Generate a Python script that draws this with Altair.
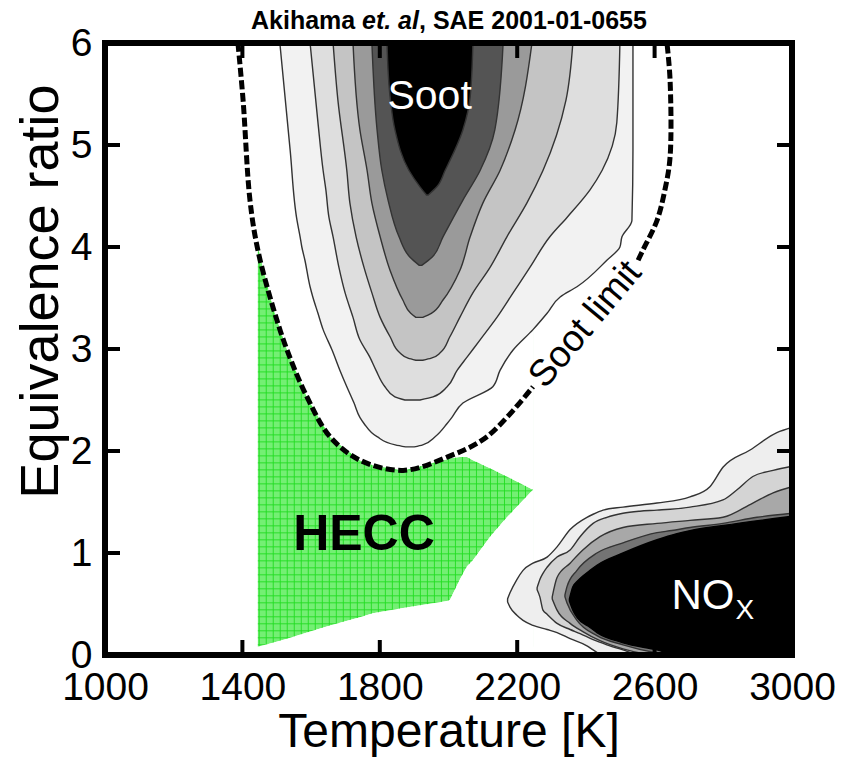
import altair as alt
import numpy as np
import pandas as pd

FONT = "Liberation Sans"
W, H = 687, 612

X_DOMAIN = [1000, 3000]
Y_DOMAIN = [0, 6]
X_TICKS = [1000, 1400, 1800, 2200, 2600, 3000]
Y_TICKS = [0, 1, 2, 3, 4, 5, 6]
X_INNER = [1400, 1800, 2200, 2600]
Y_INNER = [1, 2, 3, 4, 5]

# ---- soot contours (y, left x, right x), outer -> inner
SOOT_FILLS = ["#f2f2f2", "#dedede", "#c4c4c4", "#9a9a9a", "#545454", "#000000"]
L1_Y = [6.0, 4.95, 4.26, 4.10, 4.00, 3.87, 3.61, 3.51, 3.35, 3.19, 2.99, 2.79, 2.63, 2.47, 2.33, 2.27, 2.14, 2.06, 2.04]
L1_XL = [1509, 1539, 1559, 1568, 1573, 1582, 1597, 1605, 1620, 1635, 1661, 1684, 1704, 1725, 1742, 1754, 1792, 1845, 1875]
L1_XR = [2537, 2537, 2534, 2505, 2499, 2461, 2374, 2325, 2287, 2246, 2188, 2150, 2129, 2042, 2010, 1996, 1961, 1925, 1900]
L2_Y = [6.0, 5.22, 4.75, 4.56, 4.29, 4.10, 3.80, 3.55, 3.31, 3.09, 2.92, 2.79, 2.63, 2.53, 2.50]
L2_XL = [1597, 1620, 1635, 1643, 1652, 1664, 1681, 1699, 1722, 1742, 1771, 1789, 1815, 1844, 1873]
L2_XR = [2499, 2490, 2447, 2412, 2345, 2295, 2237, 2188, 2141, 2092, 2054, 2025, 1996, 1955, 1917]
L3_Y = [6.0, 5.44, 4.75, 4.43, 4.10, 3.80, 3.55, 3.31, 3.12, 2.96, 2.91, 2.89]
L3_XL = [1664, 1678, 1704, 1713, 1731, 1754, 1777, 1801, 1830, 1859, 1882, 1905]
L3_XR = [2362, 2342, 2275, 2228, 2170, 2121, 2071, 2033, 2004, 1975, 1950, 1925]
L4_Y = [6.0, 5.15, 4.75, 4.43, 4.10, 3.77, 3.48, 3.35, 3.31]
L4_XL = [1722, 1742, 1763, 1777, 1801, 1830, 1867, 1890, 1905]
L4_XR = [2243, 2194, 2150, 2100, 2063, 2033, 1984, 1950, 1925]
L5_Y = [6.0, 5.15, 4.75, 4.46, 4.10, 3.90, 3.82]
L5_XL = [1777, 1792, 1806, 1824, 1856, 1888, 1915]
L5_XR = [2159, 2135, 2092, 2042, 1984, 1952, 1922]
L6_Y = [6.0, 5.47, 5.15, 4.75, 4.59, 4.51]
L6_XL = [1821, 1830, 1844, 1885, 1917, 1936]
L6_XR = [2071, 2063, 2042, 1990, 1966, 1941]
SOOT = [(L1_Y, L1_XL, L1_XR), (L2_Y, L2_XL, L2_XR), (L3_Y, L3_XL, L3_XR),
        (L4_Y, L4_XL, L4_XR), (L5_Y, L5_XL, L5_XR), (L6_Y, L6_XL, L6_XR)]

# ---- NOx contours (x, bottom y, top y), outer -> inner
NOX_FILLS = ["#eeeeee", "#d4d4d4", "#a8a8a8", "#747474", "#000000"]
N1_X = [2172, 2179, 2199, 2217, 2246, 2287, 2316, 2354, 2403, 2421, 2450, 2508, 2607, 2703, 2761, 2799, 2878, 2956, 3000]
N1_TOP = [0.55, 0.61, 0.74, 0.83, 0.90, 0.96, 1.06, 1.23, 1.35, 1.38, 1.42, 1.45, 1.49, 1.55, 1.65, 1.84, 2.01, 2.18, 2.23]
N1_BOT = [0.52, 0.47, 0.39, 0.34, 0.29, 0.25, 0.22, 0.16, 0.09, 0.05, 0.0, 0.0, 0.0, 0.0, 0.0, 0.0, 0.0, 0.0, 0.0]
N2_X = [2258, 2266, 2275, 2287, 2316, 2354, 2383, 2421, 2461, 2508, 2557, 2607, 2703, 2799, 2840, 2886, 2945, 3000]
N2_TOP = [0.66, 0.74, 0.80, 0.86, 0.96, 1.03, 1.16, 1.29, 1.35, 1.39, 1.41, 1.42, 1.45, 1.52, 1.62, 1.75, 1.81, 1.85]
N2_BOT = [0.64, 0.57, 0.44, 0.40, 0.31, 0.25, 0.21, 0.15, 0.10, 0.05, 0.0, 0.0, 0.0, 0.0, 0.0, 0.0, 0.0, 0.0]
N3_X = [2302, 2316, 2354, 2391, 2441, 2508, 2607, 2703, 2799, 2886, 2945, 3000]
N3_TOP = [0.57, 0.76, 0.90, 1.03, 1.16, 1.25, 1.29, 1.32, 1.35, 1.49, 1.59, 1.65]
N3_BOT = [0.55, 0.44, 0.31, 0.23, 0.14, 0.06, 0.0, 0.0, 0.0, 0.0, 0.0, 0.0]
N4_X = [2339, 2345, 2374, 2432, 2508, 2607, 2650, 2703, 2799, 2898, 3000]
N4_TOP = [0.59, 0.67, 0.83, 1.00, 1.10, 1.20, 1.22, 1.25, 1.29, 1.35, 1.39]
N4_BOT = [0.57, 0.51, 0.34, 0.19, 0.10, 0.02, 0.0, 0.0, 0.0, 0.0, 0.0]
N5_X = [2352, 2362, 2374, 2412, 2432, 2508, 2607, 2665, 2703, 2800, 3000]
N5_TOP = [0.55, 0.67, 0.72, 0.83, 0.88, 1.00, 1.13, 1.19, 1.22, 1.27, 1.36]
N5_BOT = [0.53, 0.44, 0.37, 0.27, 0.22, 0.12, 0.05, 0.0, 0.0, 0.0, 0.0]
NOX = [(N1_X, N1_BOT, N1_TOP), (N2_X, N2_BOT, N2_TOP), (N3_X, N3_BOT, N3_TOP),
       (N4_X, N4_BOT, N4_TOP), (N5_X, N5_BOT, N5_TOP)]

# ---- HECC region
HECC_X = [1445, 1489, 1530, 1588, 1655, 1742, 1780, 1868, 1996, 2004, 2033, 2054, 2071, 2121, 2170, 2246]
HECC_LO = [0.08, 0.12, 0.16, 0.22, 0.29, 0.37, 0.41, 0.46, 0.53, 0.54, 0.74, 0.87, 0.93, 1.16, 1.35, 1.62]
HECC_HI = [4.00, 3.41, 2.99, 2.53, 2.14, 1.91, 1.86, 1.81, 1.92, 1.93, 1.94, 1.94, 1.91, 1.83, 1.75, 1.62]

# ---- soot limit (two pieces, broken by the label)
SLA_X = [1387, 1402, 1422, 1445, 1489, 1530, 1588, 1655, 1742, 1868, 1996, 2112, 2246]
SLA_Y = [6.0, 5.44, 4.46, 3.97, 3.41, 2.99, 2.53, 2.14, 1.91, 1.81, 1.94, 2.14, 2.63]
SLB_X = [2552, 2566, 2607, 2630, 2645, 2645, 2636]
SLB_Y = [3.87, 3.97, 4.26, 4.56, 4.88, 5.64, 6.0]

# ---- labels
LABEL_TEXT = ["Soot", "HECC", "NO", "X", "Soot limit"]
LABEL_X = [1945, 1754, 2741, 2863, 2399]
LABEL_Y = [5.47, 1.18, 0.58, 0.43, 3.24]

TITLE_PARTS = ["Akihama ", "et. al", ", SAE 2001-01-0655"]

xs = alt.Scale(domain=X_DOMAIN, nice=False, zero=False)
ys = alt.Scale(domain=Y_DOMAIN, nice=False, zero=False)
AX = alt.Axis(values=X_TICKS, title="Temperature [K]", ticks=False, domain=False, grid=False,
              labelFontSize=39, labelFont=FONT, labelColor="black", labelPadding=13,
              labelFlush=False, labelOverlap=False, format="d",
              titleFontSize=48, titleFont=FONT, titleFontWeight="normal", titleColor="black",
              titleBaseline="alphabetic", titleY=91)
AY = alt.Axis(values=Y_TICKS, title="Equivalence ratio", ticks=False, domain=False, grid=False,
              labelFontSize=39, labelFont=FONT, labelColor="black", labelPadding=13,
              labelFlush=False, labelOverlap=False, format="d",
              titleFontSize=54, titleFont=FONT, titleFontWeight="normal", titleColor="black",
              titleBaseline="alphabetic", titleX=-48, titleY=248)

layers = []

# HECC region: fill, grid texture, then white masks outside the polygon
hecc_df = pd.DataFrame({"x": HECC_X, "lo": HECC_LO, "hi": HECC_HI})
layers.append(
    alt.Chart(hecc_df).mark_area(orient="vertical", fill="#74ef74", clip=True)
    .encode(x=alt.X("x:Q", scale=xs, axis=AX),
            y=alt.Y("lo:Q", scale=ys, axis=AY, stack=None),
            y2="hi:Q")
)
GRID_STEP_X = 20.4
GRID_STEP_Y = 0.0686
gv = pd.DataFrame({"v": np.arange(HECC_X[0] + 4, HECC_X[-1], GRID_STEP_X)})
gh = pd.DataFrame({"v": np.arange(HECC_LO[0] + 0.02, HECC_HI[0], GRID_STEP_Y)})
layers.append(alt.Chart(gv).mark_rule(color="#22dd22", strokeWidth=0.9, clip=True).encode(
    x=alt.X("v:Q", scale=xs, axis=AX), y=alt.datum(HECC_LO[0]), y2=alt.datum(HECC_HI[0])))
layers.append(alt.Chart(gh).mark_rule(color="#22dd22", strokeWidth=0.9, clip=True).encode(
    y=alt.Y("v:Q", scale=ys, axis=AY), x=alt.datum(HECC_X[0]), x2=alt.datum(HECC_X[-1])))
mask_df = pd.DataFrame({"x": HECC_X, "lo": HECC_LO, "hi": HECC_HI,
                        "top": [HECC_HI[0] + 0.1] * len(HECC_X), "bot": [0.0] * len(HECC_X)})
layers.append(alt.Chart(mask_df).mark_area(orient="vertical", fill="white", clip=True).encode(
    x=alt.X("x:Q", scale=xs, axis=AX), y=alt.Y("hi:Q", scale=ys, axis=AY, stack=None), y2="top:Q"))
layers.append(alt.Chart(mask_df).mark_area(orient="vertical", fill="white", clip=True).encode(
    x=alt.X("x:Q", scale=xs, axis=AX), y=alt.Y("bot:Q", scale=ys, axis=AY, stack=None), y2="lo:Q"))

# soot contours
for (yy, xl, xr), fill in zip(SOOT, SOOT_FILLS):
    df = pd.DataFrame({"y": yy, "xl": xl, "xr": xr})
    layers.append(
        alt.Chart(df).mark_area(orient="horizontal", fill=fill, stroke="#333333",
                                strokeWidth=1.4, clip=True, interpolate="monotone")
        .encode(y=alt.Y("y:Q", scale=ys, axis=AY),
                x=alt.X("xl:Q", scale=xs, axis=AX, stack=None),
                x2="xr:Q")
    )

# NOx contours
for i, ((xx, lo, hi), fill) in enumerate(zip(NOX, NOX_FILLS)):
    df = pd.DataFrame({"x": xx, "lo": lo, "hi": hi})
    layers.append(
        alt.Chart(df).mark_area(orient="vertical", fill=fill,
                                stroke="#333333" if i < 4 else "#000000",
                                strokeWidth=1.4, clip=True, interpolate="monotone")
        .encode(x=alt.X("x:Q", scale=xs, axis=AX),
                y=alt.Y("lo:Q", scale=ys, axis=AY, stack=None),
                y2="hi:Q")
    )

# soot limit
sl_df = pd.DataFrame({
    "x": SLA_X + SLB_X,
    "y": SLA_Y + SLB_Y,
    "seg": ["a"] * len(SLA_X) + ["b"] * len(SLB_X),
    "ord": list(range(len(SLA_X))) + list(range(len(SLB_X))),
})
layers.append(
    alt.Chart(sl_df).mark_line(color="black", strokeWidth=5, strokeDash=[9, 3.5],
                               interpolate="catmull-rom", clip=True)
    .encode(x=alt.X("x:Q", scale=xs, axis=AX), y=alt.Y("y:Q", scale=ys, axis=AY),
            detail="seg:N", order="ord:Q")
)

# labels
lab = pd.DataFrame({"t": LABEL_TEXT, "x": LABEL_X, "y": LABEL_Y})
def text_layer(i, **kw):
    return alt.Chart(lab.iloc[[i]]).mark_text(font=FONT, baseline="middle", align="center", **kw).encode(
        x=alt.X("x:Q", scale=xs, axis=AX), y=alt.Y("y:Q", scale=ys, axis=AY), text="t:N")

layers.append(text_layer(0, fontSize=41, color="white"))
layers.append(text_layer(1, fontSize=50, fontWeight="bold", color="black"))
layers.append(text_layer(2, fontSize=42, color="white"))
layers.append(text_layer(3, fontSize=28, color="white"))
layers.append(text_layer(4, fontSize=37, color="black", angle=310))

# inward ticks
tx = pd.DataFrame({"v": X_INNER})
ty = pd.DataFrame({"v": Y_INNER})
TK = 15
layers.append(alt.Chart(tx).mark_rule(color="black", strokeWidth=4).encode(
    x=alt.X("v:Q", scale=xs, axis=AX), y=alt.value(H), y2=alt.value(H - TK)))
layers.append(alt.Chart(tx).mark_rule(color="black", strokeWidth=4).encode(
    x=alt.X("v:Q", scale=xs, axis=AX), y=alt.value(0), y2=alt.value(TK)))
layers.append(alt.Chart(ty).mark_rule(color="black", strokeWidth=4).encode(
    y=alt.Y("v:Q", scale=ys, axis=AY), x=alt.value(0), x2=alt.value(TK)))
layers.append(alt.Chart(ty).mark_rule(color="black", strokeWidth=4).encode(
    y=alt.Y("v:Q", scale=ys, axis=AY), x=alt.value(W), x2=alt.value(W - TK)))

# frame
one = pd.DataFrame({"a": [0]})
layers.append(alt.Chart(one).mark_rect(fill="transparent", stroke="black", strokeWidth=6).encode(
    x=alt.value(0), x2=alt.value(W), y=alt.value(0), y2=alt.value(H)))

# title
tdf = pd.DataFrame({"t": TITLE_PARTS})
TITLE_X = [146, 257, 314]
for i, style in enumerate(["normal", "italic", "normal"]):
    layers.append(alt.Chart(tdf.iloc[[i]]).mark_text(
        font=FONT, fontSize=25, fontWeight="bold", fontStyle=style, align="left",
        baseline="alphabetic", color="black").encode(
        x=alt.value(TITLE_X[i]), y=alt.value(-14), text="t:N"))

chart = alt.layer(*layers).properties(
    width=W, height=H,
    autosize=alt.AutoSizeParams(type="none"),
    padding={"left": 97, "top": 35, "right": 46, "bottom": 104},
).configure_view(stroke=None)

chart.save("out.html", embed_options={"renderer": "svg", "actions": False})
